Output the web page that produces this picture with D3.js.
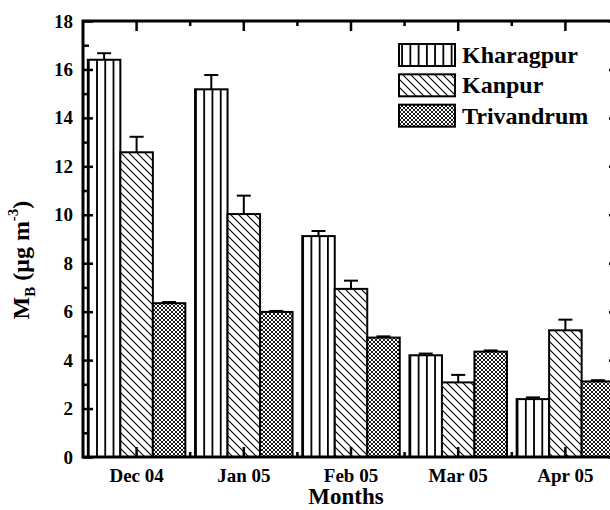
<!DOCTYPE html>
<html>
<head>
<meta charset="utf-8">
<script src="https://cdn.jsdelivr.net/npm/d3@7"></script>
<style>
  body { margin: 0; background: #fff; }
  svg text { font-family: "Liberation Serif", "Times New Roman", serif; font-weight: bold; fill: #000; }
</style>
</head>
<body>
<div class="display"></div>
<script>
const months = ['Dec 04', 'Jan 05', 'Feb 05', 'Mar 05', 'Apr 05'];
const series = ['Kharagpur', 'Kanpur', 'Trivandrum'];
const kharagpur = [16.4, 15.18, 9.12, 4.2, 2.39];
const kharagpurErr = [0.27, 0.59, 0.21, 0.07, 0.07];
const kanpur = [12.58, 10.03, 6.94, 3.08, 5.23];
const kanpurErr = [0.64, 0.76, 0.34, 0.31, 0.44];
const trivandrum = [6.35, 5.99, 4.93, 4.35, 3.12];
const trivandrumErr = [0.05, 0.04, 0.05, 0.05, 0.05];
const yTicks = [0, 2, 4, 6, 8, 10, 12, 14, 16, 18];

const width = 610;
const height = 510;
const plotLeft = 83, plotTop = 21, plotBottom = 457, plotRight = 619;

const values = [kharagpur, kanpur, trivandrum];
const errors = [kharagpurErr, kanpurErr, trivandrumErr];

const svg = d3.select('.display')
  .append('svg')
  .attr('width', width)
  .attr('height', height);

const x = d3.scaleBand().domain(months).range([plotLeft, plotRight]).padding(0);
const step = x.step();
const barW = 32.5;
const inner = d3.scaleBand().domain(series).range([-barW * 1.5, barW * 1.5]);
const y = d3.scaleLinear().domain([0, 18]).range([plotBottom, plotTop]);

// patterns
const defs = svg.append('defs');
const firstX = x(months[0]) + step / 2;
const vp = defs.append('pattern')
  .attr('id', 'pat-Kharagpur')
  .attr('patternUnits', 'userSpaceOnUse')
  .attr('x', firstX + inner('Kharagpur'))
  .attr('y', 0)
  .attr('width', step / 13)
  .attr('height', 10);
vp.append('rect').attr('width', step / 13).attr('height', 10).attr('fill', '#fff');
vp.append('line').attr('x1', 0.9).attr('x2', 0.9).attr('y1', 0).attr('y2', 10)
  .attr('stroke', '#000').attr('stroke-width', 1.8);

const dp = defs.append('pattern')
  .attr('id', 'pat-Kanpur')
  .attr('patternUnits', 'userSpaceOnUse')
  .attr('width', 8)
  .attr('height', 8);
dp.append('rect').attr('width', 8).attr('height', 8).attr('fill', '#fff');
dp.append('path').attr('d', 'M-2,-2L10,10M-2,6L2,10M6,-2L10,2')
  .attr('stroke', '#000').attr('stroke-width', 1.1);

const cp = defs.append('pattern')
  .attr('id', 'pat-Trivandrum')
  .attr('patternUnits', 'userSpaceOnUse')
  .attr('width', 4)
  .attr('height', 4);
cp.append('rect').attr('width', 4).attr('height', 4).attr('fill', '#fff');
cp.append('path').attr('d', 'M-1,-1L5,5M-1,3L1,5M3,-1L5,1M-1,5L5,-1M-1,1L1,-1M3,5L5,3')
  .attr('stroke', '#000').attr('stroke-width', 0.9);

// bars
series.forEach((s, si) => {
  const g = svg.append('g');
  const data = months.map((m, i) => ({ m, v: values[si][i], e: errors[si][i] }));
  const bx = d => x(d.m) + step / 2 + inner(s);

  g.selectAll('line.err')
    .data(data)
    .enter()
    .append('line')
    .attr('x1', d => bx(d) + barW / 2)
    .attr('x2', d => bx(d) + barW / 2)
    .attr('y1', d => y(d.v))
    .attr('y2', d => y(d.v + d.e))
    .attr('stroke', '#000')
    .attr('stroke-width', 2);

  g.selectAll('line.cap')
    .data(data)
    .enter()
    .append('line')
    .attr('x1', d => bx(d) + barW / 2 - 7)
    .attr('x2', d => bx(d) + barW / 2 + 7)
    .attr('y1', d => y(d.v + d.e))
    .attr('y2', d => y(d.v + d.e))
    .attr('stroke', '#000')
    .attr('stroke-width', 2);

  g.selectAll('rect')
    .data(data)
    .enter()
    .append('rect')
    .attr('x', d => bx(d))
    .attr('y', d => y(d.v))
    .attr('width', barW)
    .attr('height', d => y(0) - y(d.v))
    .attr('fill', `url(#pat-${s})`)
    .attr('stroke', '#000')
    .attr('stroke-width', 2);
});

// frame
svg.append('rect')
  .attr('x', plotLeft).attr('y', plotTop)
  .attr('width', plotRight - plotLeft).attr('height', plotBottom - plotTop)
  .attr('fill', 'none').attr('stroke', '#000').attr('stroke-width', 3);

// y axis ticks (inward, left and right)
const yMinor = d3.range(1, 18, 2);
const yAxisL = d3.axisRight(y).tickValues(yTicks).tickSize(10).tickFormat('');
const yAxisLm = d3.axisRight(y).tickValues(yMinor).tickSize(6).tickFormat('');
const yAxisR = d3.axisLeft(y).tickValues(yTicks).tickSize(10).tickFormat('');
const yAxisRm = d3.axisLeft(y).tickValues(yMinor).tickSize(6).tickFormat('');
[[yAxisL, plotLeft], [yAxisLm, plotLeft], [yAxisR, plotRight], [yAxisRm, plotRight]].forEach(([ax, px]) => {
  const g = svg.append('g').attr('transform', `translate(${px},0)`).call(ax);
  g.select('.domain').remove();
  g.selectAll('line').attr('stroke-width', 2.5);
});

// y tick labels
svg.append('g')
  .selectAll('text')
  .data(yTicks)
  .enter()
  .append('text')
  .attr('x', 73)
  .attr('y', d => y(d) + 6.5)
  .attr('text-anchor', 'end')
  .style('font-size', '19px')
  .text(d => d);

// x ticks: majors at month centres, minors at boundaries
const xMinor = months.slice(1).map(m => x(m));
[[plotBottom, -1], [plotTop, 1]].forEach(([py, dir]) => {
  const g = svg.append('g');
  g.selectAll('line.major')
    .data(months)
    .enter()
    .append('line')
    .attr('x1', d => x(d) + step / 2)
    .attr('x2', d => x(d) + step / 2)
    .attr('y1', py)
    .attr('y2', py + dir * 10)
    .attr('stroke', '#000').attr('stroke-width', 2.5);
  g.selectAll('line.minor')
    .data(xMinor)
    .enter()
    .append('line')
    .attr('x1', d => d)
    .attr('x2', d => d)
    .attr('y1', py)
    .attr('y2', py + dir * 5)
    .attr('stroke', '#000').attr('stroke-width', 2.5);
});

svg.append('g')
  .selectAll('text')
  .data(months)
  .enter()
  .append('text')
  .attr('x', d => x(d) + step / 2)
  .attr('y', 482)
  .attr('text-anchor', 'middle')
  .style('font-size', '19px')
  .text(d => d);

// axis titles
svg.append('text')
  .attr('x', 346)
  .attr('y', 504)
  .attr('text-anchor', 'middle')
  .style('font-size', '23px')
  .text('Months');

const yl = svg.append('text')
  .attr('transform', 'translate(29,260) rotate(-90)')
  .attr('text-anchor', 'middle')
  .style('font-size', '24px');
yl.append('tspan').text('M');
yl.append('tspan').attr('dy', 6).style('font-size', '15px').text('B');
yl.append('tspan').attr('dy', -6).text(' (μg m');
yl.append('tspan').attr('dy', -11).style('font-size', '15px').text('-3');
yl.append('tspan').attr('dy', 11).text(')');

// legend
const legend = svg.append('g').attr('id', 'legend');
const ly = d3.scaleBand().domain(series).range([44, 135]);
legend.selectAll('rect')
  .data(series)
  .enter()
  .append('rect')
  .attr('x', 399)
  .attr('y', d => ly(d))
  .attr('width', 56)
  .attr('height', 22)
  .attr('fill', d => `url(#pat-${d})`)
  .attr('stroke', '#000')
  .attr('stroke-width', 2);
legend.selectAll('text')
  .data(series)
  .enter()
  .append('text')
  .attr('x', 462)
  .attr('y', d => ly(d) + 19)
  .style('font-size', '24px')
  .text(d => d);
</script>
</body>
</html>
